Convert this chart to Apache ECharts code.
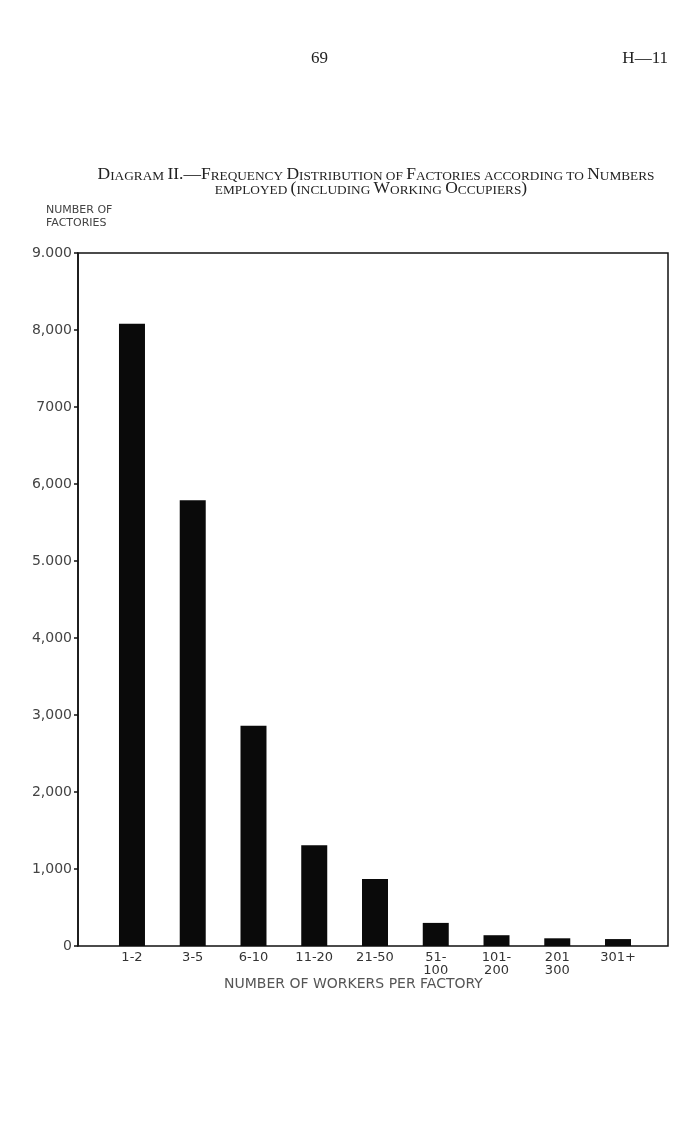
<!DOCTYPE html>
<html>
<head>
<meta charset="utf-8">
<script src="https://cdn.jsdelivr.net/npm/echarts@6/dist/echarts.min.js"></script>
<style>
html,body{margin:0;padding:0;background:#fff;}
#chart{width:700px;height:1144px;}
</style>
</head>
<body>
<div id="chart"></div>
<script>
// ---- data ----
var categories = ['1-2', '3-5', '6-10', '11-20', '21-50', '51-\n100', '101-\n200', '201\n300', '301+'];
var factories = [8080, 5790, 2860, 1310, 870, 300, 140, 100, 90];
var yTickValues = [0, 1000, 2000, 3000, 4000, 5000, 6000, 7000, 8000, 9000];
var yTickLabels = ['0', '1,000', '2,000', '3,000', '4,000', '5.000', '6,000', '7000', '8,000', '9.000'];
var titleText = 'Diagram II.\u2014Frequency Distribution of Factories according to Numbers';
var titleText2 = 'employed (including Working Occupiers)';

// small caps helper: uppercase letters large, others small
function smallCaps(s) {
  var out = '', cur = null, buf = '';
  for (var i = 0; i < s.length; i++) {
    var ch = s[i];
    var t = (ch >= 'a' && ch <= 'z') ? 's' : 'c';
    if (ch === ' ') t = cur || 'c';
    if (t !== cur) {
      if (buf) out += '{' + cur + '|' + buf + '}';
      buf = ''; cur = t;
    }
    buf += (t === 's') ? ch.toUpperCase() : ch;
  }
  if (buf) out += '{' + cur + '|' + buf + '}';
  return out;
}

var chart = echarts.init(document.getElementById('chart'), null, {renderer: 'canvas'});
var labelFont = 'DejaVu Sans';
var scRich = {
  c: {fontFamily: 'Liberation Serif', fontSize: 17.5, lineHeight: 17.5, verticalAlign: 'bottom', fill: '#222', color: '#222'},
  s: {fontFamily: 'Liberation Serif', fontSize: 13.3, lineHeight: 13.3, verticalAlign: 'bottom', fill: '#222', color: '#222'}
};
var option = {
  backgroundColor: '#ffffff',
  animation: false,
  grid: [
    {left: 78, right: 32, top: 253, bottom: 198, show: true, borderColor: '#111', borderWidth: 1.5, backgroundColor: 'transparent'},
    {left: 101.6, right: 51.6, top: 253, bottom: 198}
  ],
  xAxis: [
    {gridIndex: 0, type: 'value', min: 0, max: 1, show: false},
    {gridIndex: 1, type: 'category', data: categories,
      axisLine: {show: false}, axisTick: {show: false},
      axisLabel: {margin: 5, fontFamily: labelFont, fontWeight: 'normal', fontSize: 13, color: '#333', lineHeight: 13, interval: 0}}
  ],
  yAxis: [
    {gridIndex: 0, type: 'value', min: 0, max: 9000, interval: 1000,
      axisLine: {show: true, lineStyle: {color: '#111', width: 1.5}},
      axisTick: {show: true, length: 4, lineStyle: {color: '#111', width: 1.5}},
      splitLine: {show: false},
      axisLabel: {margin: 6, fontFamily: labelFont, fontWeight: 'normal', fontSize: 14, color: '#444',
        formatter: function (v) { var i = yTickValues.indexOf(v); return i >= 0 ? yTickLabels[i] : ''; }}},
    {gridIndex: 1, type: 'value', min: 0, max: 9000, show: false}
  ],
  series: [{
    type: 'bar', xAxisIndex: 1, yAxisIndex: 1,
    data: factories, barWidth: 26,
    itemStyle: {color: '#0a0a0a'}
  }],
  graphic: [
    {type: 'text', left: 311, top: 50, style: {text: '69', font: '17px "Liberation Serif"', fill: '#222'}},
    {type: 'text', right: 32, top: 50, style: {text: 'H\u201411', font: '17px "Liberation Serif"', fill: '#222'}},
    {type: 'text', x: 376, y: 166, style: {text: smallCaps(titleText), rich: scRich, align: 'center'}},
    {type: 'text', x: 371, y: 180, style: {text: smallCaps(titleText2), rich: scRich, align: 'center'}},
    {type: 'text', left: 46, top: 204, style: {text: 'NUMBER OF\nFACTORIES', font: '11px "DejaVu Sans"', fill: '#444', lineHeight: 13}},
    {type: 'text', left: 224, top: 977, style: {text: 'NUMBER OF WORKERS PER FACTORY', font: '14px "DejaVu Sans"', fill: '#555'}}
  ]
};
chart.setOption(option);
</script>
</body>
</html>
